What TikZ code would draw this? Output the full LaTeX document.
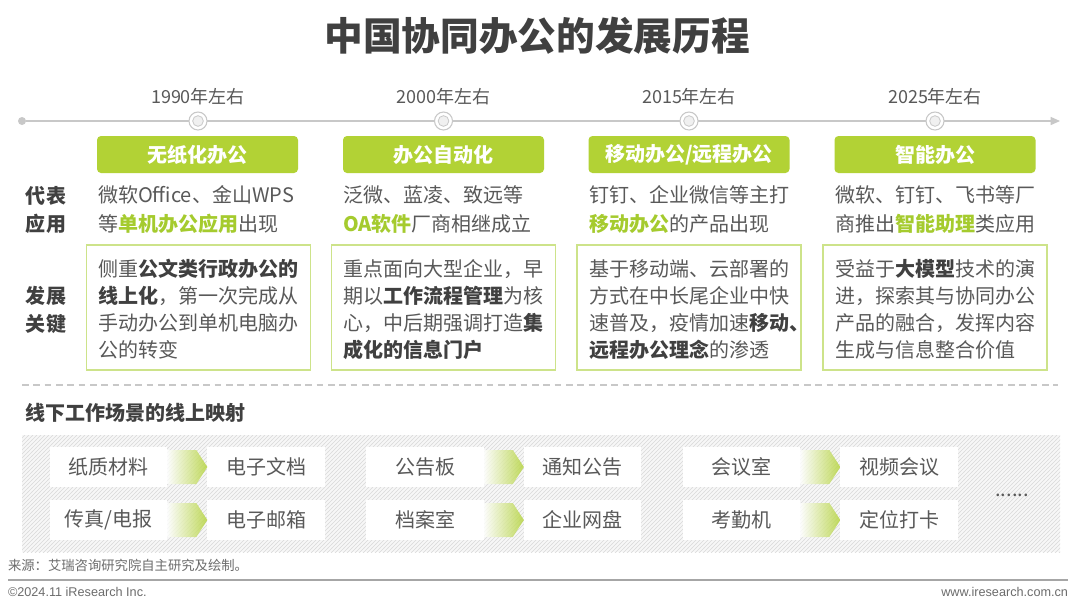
\documentclass[tikz,border=0pt]{standalone}
\usepackage{fontspec}
\setmainfont{Noto Sans CJK SC}
\newfontfamily\cjkf{Noto Sans CJK SC}
\newfontfamily\arialf{Liberation Sans}
\usetikzlibrary{arrows.meta,patterns,calc}
\definecolor{leaf}{HTML}{B2D235}
\definecolor{hlg}{HTML}{A5CB2E}
\definecolor{leafline}{HTML}{CDE38A}
\definecolor{txt}{HTML}{595959}
\definecolor{dark}{HTML}{404040}
\definecolor{lgray}{HTML}{C8C8C8}
\newcommand\hlgreen[1]{{\bfseries\color{hlg}#1}}
\newcommand\bdark[1]{{\bfseries\color{dark}#1}}
\newcommand\mapgroup[6]{%
  \node[itembox] (L1#6) at (108.5+#1,467) {#2};
  \node[itembox] (R1#6) at (266+#1,467) {#3};
  \node[itembox] (L2#6) at (108.5+#1,520) {#4};
  \node[itembox] (R2#6) at (266+#1,520) {#5};
  \foreach \r in {1,2}{
    \shade[maparrow] ($(L\r#6.north east)+(0,3)$) -- ($(R\r#6.north west)+(-11,3)$) -- (R\r#6.west) -- ($(R\r#6.south west)+(-11,-3)$) -- ($(L\r#6.south east)+(0,-3)$) -- cycle;
  }
}
\begin{document}
\begin{tikzpicture}[x=0.75pt,y=-0.75pt,
  every node/.style={inner sep=0pt,outer sep=0pt},
  body/.style={text=txt,font=\fontsize{15}{20.25}\selectfont,align=left,anchor=west},
  apptext/.style={text=txt,font=\fontsize{15}{21.75}\selectfont,align=left,anchor=west},
  rowlabel/.style={text=dark,font=\bfseries\fontsize{15}{21}\selectfont,align=center},
  yearlabel/.style={text=txt,font=\cjkf\fontsize{13.5}{16}\selectfont},
  hdr/.style={fill=leaf,rounded corners=3pt,text=white,font=\bfseries\fontsize{15}{18}\selectfont,minimum width=150.75pt,minimum height=27.75pt},
  keybox/.style={draw=leafline,line width=1.2pt,fill=white,minimum width=168pt,minimum height=93.75pt},
  ring/.style={circle,draw=lgray,line width=0.8pt,fill=white,minimum size=13.5pt},
  core/.style={circle,draw=lgray,line width=0.6pt,fill=gray!12,minimum size=8pt},
  itembox/.style={fill=white,minimum width=88pt,minimum height=30pt,text=txt,font=\fontsize{15}{18}\selectfont},
  maparrow/.style={left color=white,right color=leaf,fill opacity=0.8},
  foot/.style={text=gray!85!black,font=\fontsize{10}{12}\selectfont}
]
\useasboundingbox (0,0) rectangle (1080,608);
\fill[white] (0,0) rectangle (1080,608);

% title
\node[text=dark,font=\bfseries\fontsize{29}{34}\selectfont] (title) at (537,36) {中国协同办公的发展历程};

% timeline
\node[circle,fill=lgray,minimum size=6pt] (t0) at (22,121) {};
\coordinate (tend) at (1060,121);
\draw[lgray,line width=1pt,-{Triangle[length=7pt,width=6pt]}] (t0) -- (tend);

\foreach \cx/\yr/\nm in {198/1990/a,443.5/2000/b,689/2015/c,935/2025/d}{
  \node[ring] (r\nm) at (\cx,121) {};
  \node[core] (k\nm) at (\cx,121) {};
  \node[yearlabel] (y\nm) at (\cx,97) {\yr 年左右};
}

% headers
\node[hdr] (ha) at (197.5,154.5) {无纸化办公};
\node[hdr] (hb) at (443.5,154.5) {办公自动化};
\node[hdr] (hc) at (689,154.5) {移动办公/远程办公};
\node[hdr] (hd) at (935,154.5) {智能办公};

% row labels
\node[rowlabel] (lab1) at (46,209.5) {代表\\应用};
\node[rowlabel] (lab2) at (46,310) {发展\\关键};

% representative apps
\node[apptext] (aa) at (98,209.5) {微软Office、金山WPS\\等\hlgreen{单机办公应用}出现};
\node[apptext] (ab) at (343,209.5) {泛微、蓝凌、致远等\\\hlgreen{OA软件}厂商相继成立};
\node[apptext] (ac) at (589,209.5) {钉钉、企业微信等主打\\\hlgreen{移动办公}的产品出现};
\node[apptext] (ad) at (835,209.5) {微软、钉钉、飞书等厂\\商推出\hlgreen{智能助理}类应用};

% key boxes
\node[keybox] (ka) at (198.5,307.5) {};
\node[keybox] (kb) at (443.5,307.5) {};
\node[keybox] (kc) at (689,307.5) {};
\node[keybox] (kd) at (935,307.5) {};
\node[body] (ta) at (98,309.5) {侧重\bdark{公文类行政办公的}\\\bdark{线上化}，第一次完成从\\手动办公到单机电脑办\\公的转变};
\node[body] (tb) at (343,309.5) {重点面向大型企业，早\\期以\bdark{工作流程管理}为核\\心，中后期强调打造\bdark{集}\\\bdark{成化的信息门户}};
\node[body] (tc) at (589,309.5) {基于移动端、云部署的\\方式在中长尾企业中快\\速普及，疫情加速\bdark{移动、}\\\bdark{远程办公理念}的渗透};
\node[body] (td) at (835,309.5) {受益于\bdark{大模型}技术的演\\进，探索其与协同办公\\产品的融合，发挥内容\\生成与信息整合价值};

% separator
\coordinate (s1) at (22,385);
\coordinate (s2) at (1058,385);
\draw[lgray,line width=0.9pt,dash pattern=on 5pt off 3.5pt] (s1) -- (s2);

\node[anchor=west,text=dark,font=\bfseries\fontsize{15}{18}\selectfont] (sub) at (25,413) {线下工作场景的线上映射};

% hatched band
\fill[gray!6] (22,435) rectangle (1060,552);
\fill[pattern=north east lines,pattern color=gray!30] (22,435) rectangle (1060,552);

% mapping items
\mapgroup{0}{纸质材料}{电子文档}{传真/电报}{电子邮箱}{a}
\mapgroup{316.5}{公告板}{通知公告}{档案室}{企业网盘}{b}
\mapgroup{633}{会议室}{视频会议}{考勤机}{定位打卡}{c}

\node[text=txt,font=\fontsize{15}{18}\selectfont] (dots) at (1012,495) {......};

% footer
\node[foot,anchor=west] (src) at (8,565) {来源：艾瑞咨询研究院自主研究及绘制。};
\coordinate (f1) at (8,580);
\coordinate (f2) at (1068,580);
\draw[gray!70,line width=0.8pt] (f1) -- (f2);
\node[anchor=west,text=gray!85!black,font=\arialf\fontsize{9.5}{11}\selectfont] (copy) at (8,592) {©2024.11 iResearch Inc.};
\node[anchor=east,text=gray!85!black,font=\arialf\fontsize{9.5}{11}\selectfont] (web) at (1068,592) {www.iresearch.com.cn};
\end{tikzpicture}
\end{document}
